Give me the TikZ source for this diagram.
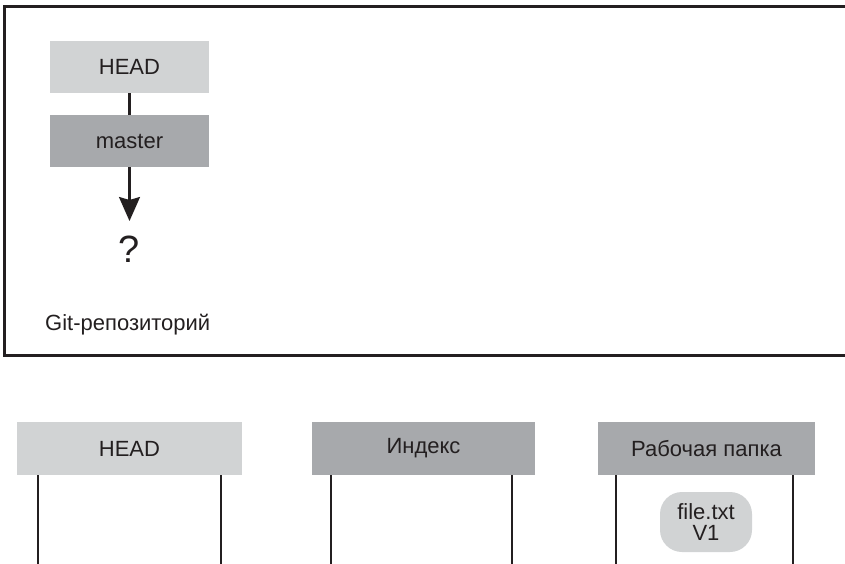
\documentclass[tikz,border=0pt]{standalone}
\usepackage{fontspec}
\setmainfont{Liberation Sans}
\usetikzlibrary{arrows.meta}
\definecolor{ink}{HTML}{231F20}
\definecolor{lightgr}{HTML}{D1D3D4}
\definecolor{midgr}{HTML}{A7A9AC}
\tikzset{
  lbl/.style={font=\fontsize{22pt}{21pt}\selectfont, text=ink},
  lbox/.style={lbl, fill=lightgr, draw=none, minimum width=159pt, minimum height=52pt, inner sep=0pt},
  dbox/.style={lbl, fill=midgr, draw=none, minimum width=159pt, minimum height=52pt, inner sep=0pt},
  wire/.style={draw=ink, line width=2.3pt},
  frame/.style={draw=ink, line width=3pt},
  pill/.style={lbl, fill=lightgr, rounded corners=22pt, minimum width=92pt, minimum height=60pt, inner sep=0pt, align=center}
}
\begin{document}
\begin{tikzpicture}[x=1pt,y=-1pt]
\useasboundingbox (0,0) rectangle (845,564);
% repository frame
\coordinate (ftr) at (846,7);
\coordinate (fbr) at (846,355);
\draw[frame] (ftr) -- (4,7) -- (4,355) -- (fbr);
% repository content
\node[lbox] (head1) at (129.5,67) {HEAD};
\node[dbox] (master) at (129.5,141) {master};
\coordinate (qtip) at (129.5,221);
\node[lbl, font=\fontsize{38pt}{40pt}\selectfont, inner sep=0pt] (q) at (129.5,249) {?};
\node[lbl, anchor=west, inner sep=0pt] (repo) at (45,325) {Git-репозиторий};
\draw[wire] (head1) -- (master);
\draw[wire, -{Stealth[length=24pt, width=21pt, inset=3pt]}] (master) -- (qtip);
% bottom areas
\node[lbox, minimum width=225pt, minimum height=53pt] (bhead) at (129.5,448.5) {HEAD};
\node[dbox, minimum width=223pt, minimum height=53pt] (index) at (423.5,448.5) {Индекс};
\node[dbox, minimum width=217pt, minimum height=53pt] (work) at (706.5,448.5) {Рабочая папка};
\coordinate (h1) at (38,564);
\coordinate (h2) at (221,564);
\coordinate (i1) at (331,564);
\coordinate (i2) at (512,564);
\coordinate (w1) at (616,564);
\coordinate (w2) at (793,564);
\draw[wire] (bhead.south -| h1) -- (h1);
\draw[wire] (bhead.south -| h2) -- (h2);
\draw[wire] (index.south -| i1) -- (i1);
\draw[wire] (index.south -| i2) -- (i2);
\draw[wire] (work.south -| w1) -- (w1);
\draw[wire] (work.south -| w2) -- (w2);
\node[pill] (file) at (706,522) {file.txt\\V1};
\end{tikzpicture}
\end{document}
